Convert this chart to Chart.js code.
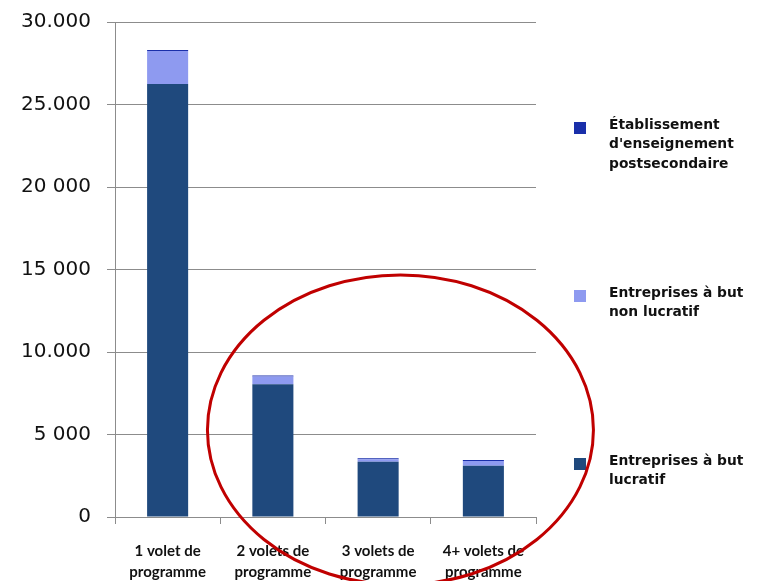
<!DOCTYPE html>
<html>
<head>
<meta charset="utf-8">
<script src="https://cdn.jsdelivr.net/npm/chart.js@4.4.0/dist/chart.umd.min.js"></script>
<style>
  html, body { margin: 0; padding: 0; background: #fff; }
  #wrap { width: 758px; height: 581px; }
</style>
</head>
<body>
<div id="wrap"><canvas id="volets"></canvas></div>
<script>
const categories = [['1 volet de', 'programme'], ['2 volets de', 'programme'], ['3 volets de', 'programme'], ['4+ volets de', 'programme']];
const lucratif = [26250, 8050, 3350, 3110];
const nonLucratif = [2000, 460, 150, 280];
const postsecondaire = [60, 60, 60, 60];
const yTicks = ['0', '5 000', '10.000', '15 000', '20 000', '25.000', '30.000'];

const legendLines = [
    ['Établissement', 'd\'enseignement', 'postsecondaire'],
    ['Entreprises à but', 'non lucratif'],
    ['Entreprises à but', 'lucratif']
];

const grille = '#8c8c8c';

// legende a droite, dessinee a la main (texte sur plusieurs lignes)
const legendeDroite = {
    id: 'legendeDroite',
    afterDraw(chart) {
        const ctx = chart.ctx;
        const sets = chart.data.datasets.slice().reverse();
        const x0 = chart.chartArea.right + 38;
        const tops = [118, 286, 454];
        ctx.save();
        ctx.font = 'bold 13.8px "DejaVu Sans"';
        ctx.textBaseline = 'middle';
        sets.forEach((ds, i) => {
            const y = tops[i] + 10;
            ctx.fillStyle = ds.backgroundColor;
            ctx.fillRect(x0, y - 6, 12, 12);
            ctx.fillStyle = '#111';
            legendLines[i].forEach((t, j) => {
                ctx.fillText(t, x0 + 35, y - 3 + j * 19.5);
            });
        });
        ctx.restore();
    }
};

// ellipse rouge par-dessus le graphique
const ellipseRouge = {
    id: 'ellipseRouge',
    afterDraw(chart) {
        const ctx = chart.ctx;
        const a = chart.chartArea;
        const cx = a.left + (a.right - a.left) * 0.678;
        const cy = a.top + (a.bottom - a.top) * 0.824;
        ctx.save();
        ctx.strokeStyle = '#c00000';
        ctx.lineWidth = 3;
        ctx.beginPath();
        ctx.ellipse(cx, cy, 193, 155, 0, 0, Math.PI * 2);
        ctx.stroke();
        ctx.restore();
    }
};

new Chart(document.getElementById('volets'), {
    type: 'bar',
    data: {
        labels: categories,
        datasets: [{
            label: 'Entreprises à but lucratif',
            data: lucratif,
            backgroundColor: '#1f497d'
        }, {
            label: 'Entreprises à but non lucratif',
            data: nonLucratif,
            backgroundColor: '#8e9af0'
        }, {
            label: 'Établissement d\'enseignement postsecondaire',
            data: postsecondaire,
            backgroundColor: '#1a2faa'
        }]
    },
    options: {
        responsive: true,
        maintainAspectRatio: false,
        animation: false,
        layout: { padding: { top: 22, right: 222, left: 0, bottom: 0 } },
        datasets: {
            bar: { categoryPercentage: 1, barPercentage: 0.39 }
        },
        plugins: {
            legend: { display: false },
            tooltip: { enabled: false }
        },
        scales: {
            x: {
                stacked: true,
                afterFit: s => { s.height = 64; s.paddingLeft = 0; s.paddingRight = 0; },
                border: { color: grille, width: 1 },
                grid: { drawOnChartArea: false, drawTicks: true, tickLength: 7, color: grille, offset: true },
                ticks: {
                    color: '#111',
                    padding: 16,
                    maxRotation: 0,
                    font: { family: 'Lato', weight: 'bold', size: 15, lineHeight: 1.45 }
                }
            },
            y: {
                stacked: true,
                min: 0,
                max: 30000,
                afterFit: s => { s.width = 115; s.paddingTop = 0; s.paddingBottom = 0; },
                border: { color: grille, width: 1 },
                grid: { color: grille, tickLength: 8 },
                ticks: {
                    stepSize: 5000,
                    color: '#111',
                    padding: 16,
                    font: { family: 'DejaVu Sans', size: 20 },
                    callback: (v, i) => yTicks[i]
                }
            }
        }
    },
    plugins: [legendeDroite, ellipseRouge]
});
</script>
</body>
</html>
